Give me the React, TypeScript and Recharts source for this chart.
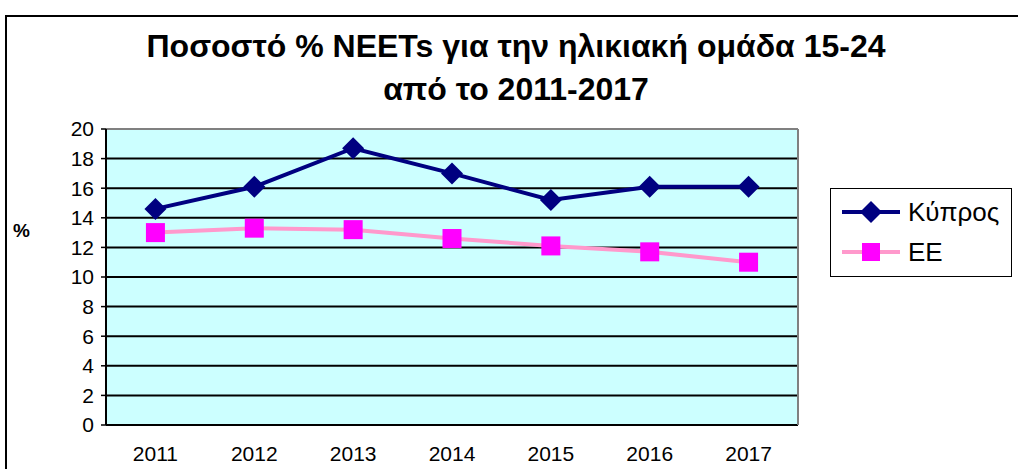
import React from "react";
import {
  CartesianGrid,
  Line,
  LineChart,
  ReferenceLine,
  XAxis,
  YAxis,
} from "recharts";

const YEARS = ["2011", "2012", "2013", "2014", "2015", "2016", "2017"];
const CYPRUS = [14.6, 16.1, 18.7, 17.0, 15.2, 16.1, 16.1];
const EU = [13.0, 13.3, 13.2, 12.6, 12.1, 11.7, 11.0];
const Y_TICKS = [0, 2, 4, 6, 8, 10, 12, 14, 16, 18, 20];
const BOUNDARY_TICKS = [0.5, 1.5, 2.5, 3.5, 4.5, 5.5, 6.5, 7.5];
const LABEL_TICKS = [1, 2, 3, 4, 5, 6, 7];

const TITLE_1 = "Ποσοστό % NEETs για την ηλικιακή ομάδα 15-24";
const TITLE_2 = "από το 2011-2017";

const NAVY = "#000080";
const PINK_LINE = "#FF99CC";
const MAGENTA = "#FF00FF";
const FONT = "'Liberation Sans', Arial, sans-serif";

const data = YEARS.map((year, i) => ({ x: i + 1, year, cy: CYPRUS[i], eu: EU[i] }));

function Diamond(props: any) {
  const { cx, cy } = props;
  if (cx == null || cy == null) return null;
  const r = 11;
  return (
    <polygon
      points={`${cx},${cy - r} ${cx + r},${cy} ${cx},${cy + r} ${cx - r},${cy}`}
      fill={NAVY}
    />
  );
}

function Square(props: any) {
  const { cx, cy } = props;
  if (cx == null || cy == null) return null;
  return <rect x={cx - 9.5} y={cy - 9.5} width={19} height={19} fill={MAGENTA} />;
}

function LegendBox() {
  const row = (label: string, color: string, marker: React.ReactNode) => (
    <div style={{ display: "flex", alignItems: "center", height: 40 }}>
      <svg width={62} height={24}>
        <line x1={2} y1={12} x2={60} y2={12} stroke={color} strokeWidth={4} />
        {marker}
      </svg>
      <span style={{ fontSize: 26, marginLeft: 6, color: "#000" }}>{label}</span>
    </div>
  );
  return (
    <div
      style={{
        position: "absolute",
        left: 830,
        top: 188,
        border: "1px solid #000",
        width: 182,
        height: 89,
        boxSizing: "border-box",
        padding: "3px 0 0 9px",
        fontFamily: FONT,
        background: "#fff",
      }}
    >
      {row("Κύπρος", NAVY, <polygon points="31,1 42,12 31,23 20,12" fill={NAVY} />)}
      {row("ΕΕ", PINK_LINE, <rect x={22} y={3} width={18} height={18} fill={MAGENTA} />)}
    </div>
  );
}

export default function App() {
  return (
    <div
      style={{
        position: "absolute",
        left: 0,
        top: 0,
        width: 1018,
        height: 469,
        overflow: "hidden",
        background: "#fff",
        fontFamily: FONT,
      }}
    >
      <div
        style={{
          position: "absolute",
          left: 5,
          top: 15,
          width: 1100,
          height: 600,
          border: "2px solid #000",
        }}
      />
      <div
        style={{
          position: "absolute",
          left: 0,
          top: 25,
          width: 1032,
          textAlign: "center",
          fontWeight: "bold",
          fontSize: 32,
          lineHeight: "43px",
          color: "#000",
        }}
      >
        <div>{TITLE_1}</div>
        <div>{TITLE_2}</div>
      </div>
      <div
        style={{
          position: "absolute",
          left: 13,
          top: 220,
          fontWeight: "bold",
          fontSize: 19,
        }}
      >
        %
      </div>
      <div style={{ position: "absolute", left: 0, top: 0 }}>
        <LineChart
          width={1018}
          height={469}
          data={data}
          margin={{ top: 129, right: 220, bottom: 0, left: 0 }}
        >
          <CartesianGrid
            horizontal
            vertical={false}
            fill="#CCFFFF"
            stroke="#000"
            strokeWidth={2}
            strokeOpacity={1}
          />
          <XAxis
            xAxisId="ticks"
            dataKey="x"
            type="number"
            domain={[0.5, 7.5]}
            ticks={BOUNDARY_TICKS}
            tickFormatter={() => ""}
            height={0}
            tickSize={7}
            axisLine={{ stroke: "#000", strokeWidth: 2 }}
            tickLine={{ stroke: "#000", strokeWidth: 1.5 }}
          />
          <XAxis
            xAxisId="labels"
            dataKey="x"
            type="number"
            domain={[0.5, 7.5]}
            ticks={LABEL_TICKS}
            tickFormatter={(v: number) => YEARS[v - 1]}
            height={44}
            tickSize={0}
            tickMargin={21}
            axisLine={false}
            tickLine={false}
            tick={{ fontSize: 21, fill: "#000", fontFamily: FONT }}
          />
          <YAxis
            domain={[0, 20]}
            ticks={Y_TICKS}
            width={106}
            tickSize={5}
            tickMargin={7}
            axisLine={{ stroke: "#000", strokeWidth: 2 }}
            tickLine={{ stroke: "#000", strokeWidth: 1.5 }}
            tick={{ fontSize: 21, fill: "#000", fontFamily: FONT }}
            interval={0}
          />
          <ReferenceLine xAxisId="ticks" x={7.5} stroke="#808080" strokeWidth={2} />
          <ReferenceLine xAxisId="ticks" y={20} stroke="#808080" strokeWidth={2} />
          <Line
            xAxisId="ticks"
            dataKey="eu"
            name="ΕΕ"
            stroke={PINK_LINE}
            strokeWidth={4}
            dot={<Square />}
            activeDot={false}
            isAnimationActive={false}
          />
          <Line
            xAxisId="ticks"
            dataKey="cy"
            name="Κύπρος"
            stroke={NAVY}
            strokeWidth={4}
            dot={<Diamond />}
            activeDot={false}
            isAnimationActive={false}
          />
        </LineChart>
      </div>
      <LegendBox />
    </div>
  );
}
